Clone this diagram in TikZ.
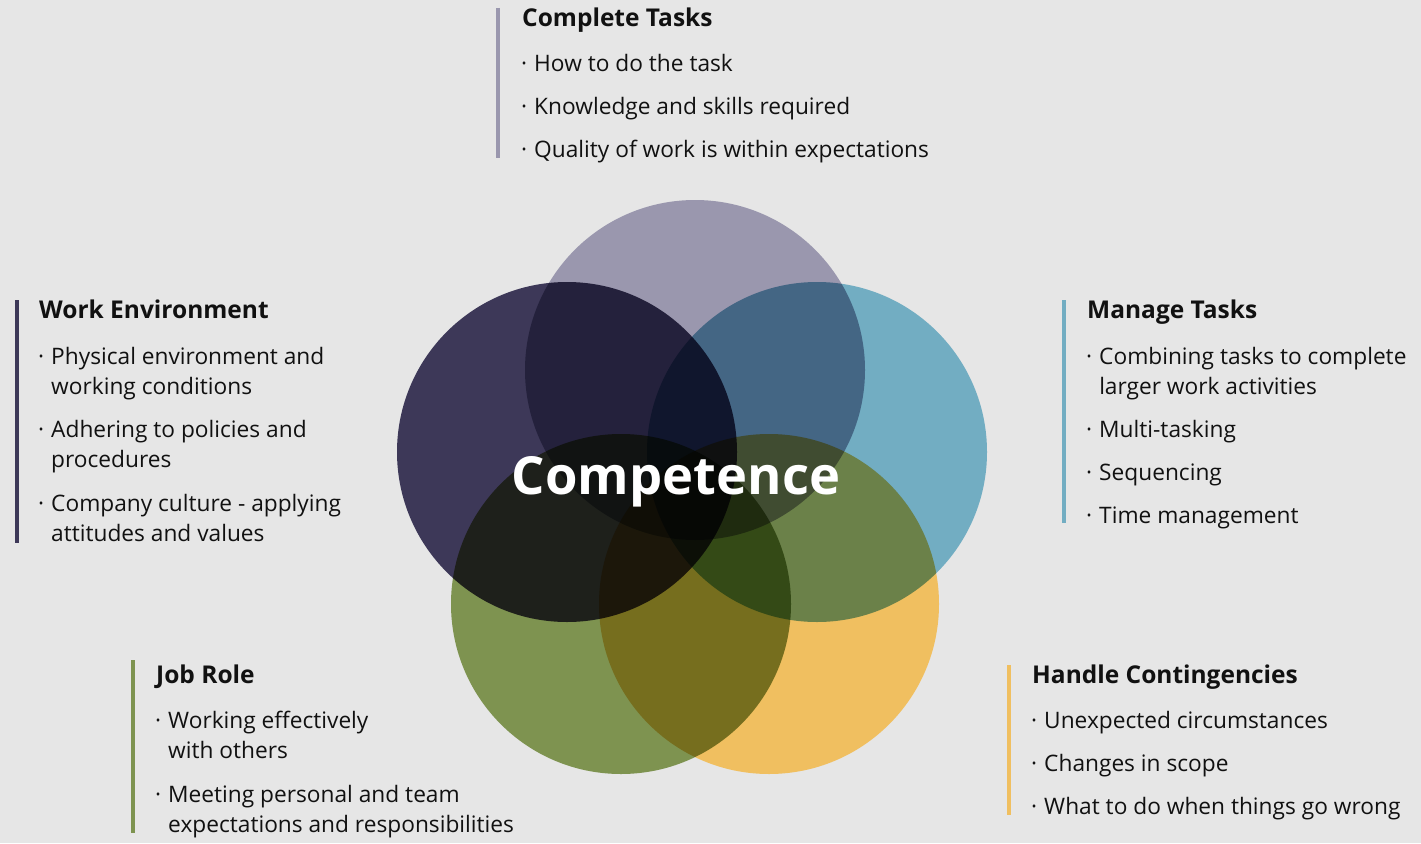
\documentclass[tikz,border=0pt]{standalone}
\usepackage{fontspec}
\setmainfont{Open Sans}
\definecolor{bg}{HTML}{E6E6E6}
\definecolor{txt}{HTML}{111111}
\definecolor{ctop}{HTML}{9A97AE}
\definecolor{cleft}{HTML}{3D3858}
\definecolor{cright}{HTML}{72ADC2}
\definecolor{cgreen}{HTML}{7E9350}
\definecolor{cyellow}{HTML}{F0BF60}
\newcommand{\itm}[1]{\begin{tabular}[t]{@{}l@{\hspace{7pt}}l@{}}#1\end{tabular}}
\tikzset{
  ttl/.style={anchor=base west, inner sep=0pt, text=txt, font=\fontsize{24.5}{28}\selectfont\bfseries},
  itembox/.style={anchor=base west, inner sep=0pt, text=txt, font=\fontsize{22.7}{30}\selectfont},
  bar/.style={line width=4pt},
}
\begin{document}
\begin{tikzpicture}[x=1pt,y=-1pt]
\useasboundingbox (0,0) rectangle (1421,843);
\fill[bg] (0,0) rectangle (1421,843);
\begin{scope}[transparency group]
\begin{scope}[blend mode=multiply]
\fill[ctop] (695,370) circle[radius=170];
\fill[cleft] (567,452) circle[radius=170];
\fill[cright] (817,452) circle[radius=170];
\fill[cgreen] (621,604) circle[radius=170];
\fill[cyellow] (769,604) circle[radius=170];
\end{scope}
\end{scope}
\node[anchor=base, inner sep=0pt, text=white, font=\fontsize{52.5}{60}\selectfont\bfseries] (comp) at (676,494) {Competence};

% Complete Tasks
\draw[bar, ctop] (498,8) -- (498,158);
\node[ttl] (ct) at (522,27) {Complete Tasks};
\node[itembox] (ct1) at (521,71) {\itm{·&How to do the task}};
\node[itembox] (ct2) at (521,114) {\itm{·&Knowledge and skills required}};
\node[itembox] (ct3) at (521,157) {\itm{·&Quality of work is within expectations}};

% Work Environment
\draw[bar, cleft] (17,300) -- (17,543);
\node[ttl] (we) at (39,318) {Work Environment};
\node[itembox] (we1) at (38,364) {\itm{·&Physical environment and\\&working conditions}};
\node[itembox] (we2) at (38,437) {\itm{·&Adhering to policies and\\&procedures}};
\node[itembox] (we3) at (38,511) {\itm{·&Company culture - applying\\&attitudes and values}};

% Manage Tasks
\draw[bar, cright] (1064,300) -- (1064,523);
\node[ttl] (mt) at (1087,318) {Manage Tasks};
\node[itembox] (mt1) at (1086,364) {\itm{·&Combining tasks to complete\\&larger work activities}};
\node[itembox] (mt2) at (1086,437) {\itm{·&Multi-tasking}};
\node[itembox] (mt3) at (1086,480) {\itm{·&Sequencing}};
\node[itembox] (mt4) at (1086,523) {\itm{·&Time management}};

% Job Role
\draw[bar, cgreen] (133,660) -- (133,833);
\node[ttl] (jr) at (156,683) {Job Role};
\node[itembox] (jr1) at (155,728) {\itm{·&Working effectively\\&with others}};
\node[itembox] (jr2) at (155,802) {\itm{·&Meeting personal and team\\&expectations and responsibilities}};

% Handle Contingencies
\draw[bar, cyellow] (1009,665) -- (1009,815);
\node[ttl] (hc) at (1032,683) {Handle Contingencies};
\node[itembox] (hc1) at (1031,728) {\itm{·&Unexpected circumstances}};
\node[itembox] (hc2) at (1031,771) {\itm{·&Changes in scope}};
\node[itembox] (hc3) at (1031,814) {\itm{·&What to do when things go wrong}};
\end{tikzpicture}
\end{document}
